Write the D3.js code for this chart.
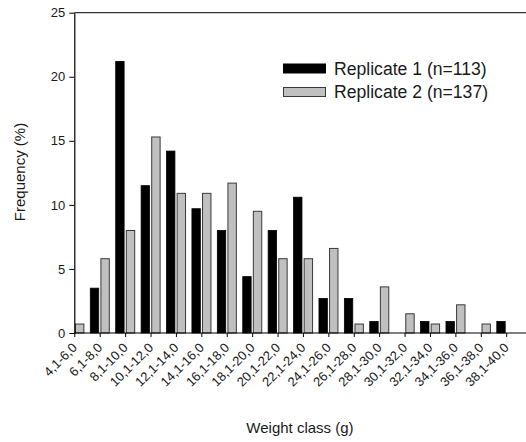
<!DOCTYPE html>
<html>
<head>
<meta charset="utf-8">
<script src="https://cdn.jsdelivr.net/npm/d3@7"></script>
<style>
  html, body { margin: 0; padding: 0; background: #fff; }
  svg { display: block; font-family: "Liberation Sans", Arial, sans-serif; }
</style>
</head>
<body>
<svg id="chart" width="526" height="442"></svg>
<script>
const categories = ["4,1-6,0","6,1-8,0","8,1-10,0","10,1-12,0","12,1-14,0","14,1-16,0",
  "16,1-18,0","18,1-20,0","20,1-22,0","22,1-24,0","24,1-26,0","26,1-28,0",
  "28,1-30,0","30,1-32,0","32,1-34,0","34,1-36,0","36,1-38,0","38,1-40,0"];
const replicate1 = [0, 3.5, 21.2, 11.5, 14.2, 9.7, 8.0, 4.4, 8.0, 10.6, 2.7, 2.7, 0.9, 0, 0.9, 0.9, 0, 0.9];
const replicate2 = [0.7, 5.8, 8.0, 15.3, 10.9, 10.9, 11.7, 9.5, 5.8, 5.8, 6.6, 0.7, 3.6, 1.5, 0.7, 2.2, 0.7, 0];
const yTicks = [0, 5, 10, 15, 20, 25];
const seriesNames = ["Replicate 1 (n=113)", "Replicate 2 (n=137)"];
const xTitle = "Weight class (g)";
const yTitle = "Frequency (%)";

(function () {
const svg = d3.select("#chart");
const pLeft = 74.3, pRight = 526, pTop = 12.7, pBottom = 333;

const x = d3.scalePoint().domain(categories).range([74.3, 506.2]);
const y = d3.scaleLinear().domain([0, 25]).range([pBottom, pTop]);
const barW = 8.4;

// top border line
svg.append("line").attr("x1", pLeft).attr("x2", pRight).attr("y1", pTop).attr("y2", pTop)
  .attr("stroke", "#333").attr("stroke-width", 1.2);

// bars
const g = svg.append("g");
g.selectAll("rect.r1").data(categories).join("rect")
  .attr("class", "r1")
  .attr("x", d => x(d) - 1 - barW)
  .attr("width", barW)
  .attr("y", (d, i) => y(replicate1[i]))
  .attr("height", (d, i) => pBottom - y(replicate1[i]))
  .attr("fill", "#000")
  .attr("stroke", "#000").attr("stroke-width", 0.8)
  .attr("display", (d, i) => replicate1[i] > 0 ? null : "none");
g.selectAll("rect.r2").data(categories).join("rect")
  .attr("class", "r2")
  .attr("x", d => x(d) + 1.2)
  .attr("width", barW)
  .attr("y", (d, i) => y(replicate2[i]))
  .attr("height", (d, i) => pBottom - y(replicate2[i]))
  .attr("fill", "#c0c0c0")
  .attr("stroke", "#3a3a3a").attr("stroke-width", 1)
  .attr("display", (d, i) => replicate2[i] > 0 ? null : "none");

// x axis
const xAxis = svg.append("g").attr("transform", `translate(0,${pBottom})`)
  .call(d3.axisBottom(x).tickSize(4).tickSizeOuter(0));
xAxis.select(".domain").remove();
xAxis.selectAll(".tick line").attr("stroke", "#000");
xAxis.selectAll(".tick text")
  .attr("font-size", 13).attr("fill", "#1a1a1a")
  .attr("font-family", '"Liberation Sans", Arial, sans-serif')
  .attr("text-anchor", "end")
  .attr("dy", null).attr("y", 0).attr("x", 0)
  .attr("transform", "translate(3,15.5) rotate(-45)");
svg.append("line").attr("x1", pLeft).attr("x2", pRight).attr("y1", pBottom).attr("y2", pBottom)
  .attr("stroke", "#000").attr("stroke-width", 1.2);

// y axis
const yAxis = svg.append("g").attr("transform", `translate(${pLeft},0)`)
  .call(d3.axisLeft(y).tickValues(yTicks).tickSize(5).tickPadding(4).tickSizeOuter(0));
yAxis.select(".domain").attr("stroke", "#000").attr("stroke-width", 1.2);
yAxis.selectAll(".tick line").attr("stroke", "#000");
yAxis.selectAll(".tick text").attr("font-size", 13).attr("fill", "#1a1a1a")
  .attr("font-family", '"Liberation Sans", Arial, sans-serif');

// titles
svg.append("text").attr("x", 300).attr("y", 433).attr("text-anchor", "middle")
  .attr("font-size", 15).attr("fill", "#1a1a1a").text(xTitle);
svg.append("text").attr("transform", "translate(25,172) rotate(-90)").attr("text-anchor", "middle")
  .attr("font-size", 15).attr("fill", "#1a1a1a").text(yTitle);

// legend
const legend = svg.append("g");
const legendRows = [
  { name: seriesNames[0], fill: "#000", stroke: "#000", y: 68.5 },
  { name: seriesNames[1], fill: "#c0c0c0", stroke: "#3a3a3a", y: 92 }
];
legendRows.forEach(r => {
  legend.append("rect").attr("x", 283.5).attr("y", r.y - 4.5).attr("width", 42).attr("height", 9)
    .attr("fill", r.fill).attr("stroke", r.stroke).attr("stroke-width", 1);
  legend.append("text").attr("x", 334).attr("y", r.y).attr("dy", "0.35em")
    .attr("font-size", 17.6).attr("fill", "#1a1a1a").text(r.name);
});
})();
</script>
</body>
</html>
